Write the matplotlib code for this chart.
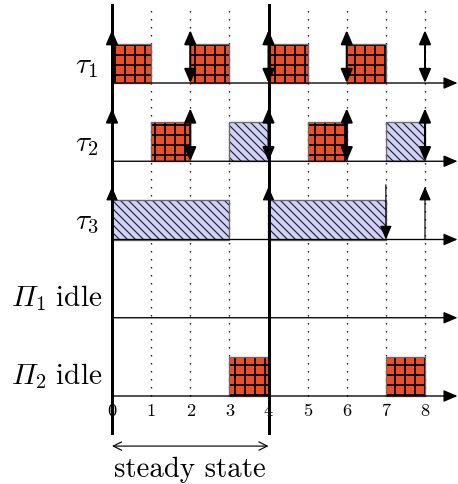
import matplotlib
matplotlib.use('Agg')
import matplotlib.pyplot as plt
from matplotlib.patches import Rectangle, FancyArrowPatch

# schedule (time units)
row_names = ['tau1', 'tau2', 'tau3', 'pi1', 'pi2']
row_base = [8, 6, 4, 2, 0]
row_labels = [r'$\tau_1$', r'$\tau_2$', r'$\tau_3$',
              '$\u00a6_1\\ \\mathrm{idle}$', '$\u00a6_2\\ \\mathrm{idle}$']

# (start, length) of executed slots
red_jobs = {'tau1': [(0, 1), (2, 1), (4, 1), (6, 1)],
            'tau2': [(1, 1), (5, 1)],
            'pi2': [(3, 1), (7, 1)]}
blue_jobs = {'tau2': [(3, 1), (7, 1)],
             'tau3': [(0, 3), (4, 3)]}

releases = {'tau1': [0, 2, 4, 6, 8], 'tau2': [0, 2, 4, 6, 8], 'tau3': [0, 4, 8]}
deadlines = {'tau1': [2, 4, 6, 8], 'tau2': [2, 4, 6, 8], 'tau3': [7]}

ticks = [0, 1, 2, 3, 4, 5, 6, 7, 8]
steady = (0, 4)

red = '#ec4f25'
lav = '#d2d2f2'
plt.rcParams['hatch.linewidth'] = 1.1

s = 39.125  # px per time unit
fig = plt.figure(figsize=(458 / 120, 484 / 120), dpi=120)
ax = fig.add_axes([0, 0, 1, 1])
ax.set_xlim(-112 / s, (458 - 112) / s)
ax.set_ylim(-(484 - 396) / s, 396 / s)
ax.axis('off')

head = ',head_length=0.7,head_width=0.3'

# dotted time grid
for t in ticks:
    if t in steady:
        continue
    ax.plot([t, t], [0, 10.0], color='black', lw=0.8, ls=(0, (1, 5)), zorder=0)

for name, base in zip(row_names, row_base):
    for st, ln in red_jobs.get(name, []):
        ax.add_patch(Rectangle((st, base), ln, 1, facecolor=red, edgecolor='black',
                               hatch='++', lw=0, zorder=2))
        ax.add_patch(Rectangle((st, base), ln, 1, fill=False, edgecolor='#6a6a6a',
                               lw=0.8, zorder=2.1))
    for st, ln in blue_jobs.get(name, []):
        p = Rectangle((st, base), ln, 1, facecolor=lav, edgecolor='#202040',
                      hatch='\\\\\\\\\\', lw=0, zorder=2)
        if hasattr(p, 'set_hatch_linewidth'):
            p.set_hatch_linewidth(0.7)
        ax.add_patch(p)
        ax.add_patch(Rectangle((st, base), ln, 1, fill=False, edgecolor='#6a6a6a',
                               lw=0.8, zorder=2.1))

    # time axis of the row
    ax.add_patch(FancyArrowPatch((0, base), (8.83, base), arrowstyle='-|>' + head,
                                 mutation_scale=10, lw=0.8, color='black', shrinkA=0, shrinkB=0, zorder=3))

    lw = 0.7 if name == 'tau3' else 1.2
    rel = releases.get(name, [])
    dl = deadlines.get(name, [])
    for t in rel:
        style = '<|-|>' if t in dl else '-|>'
        ax.add_patch(FancyArrowPatch((t, base), (t, base + 1.35), arrowstyle=style + head,
                                     mutation_scale=10, lw=lw, color='black',
                                     shrinkA=0, shrinkB=0, zorder=5))
    for t in dl:
        if t in rel:
            continue
        ax.add_patch(FancyArrowPatch((t, base + 1.4), (t, base), arrowstyle='-|>' + head,
                                     mutation_scale=10, lw=lw, color='black',
                                     shrinkA=0, shrinkB=0, zorder=5))

# row labels
for i, (lab, base) in enumerate(zip(row_labels, row_base)):
    if i < 3:
        ax.text(-0.64, base + 0.44, lab, ha='center', va='center', fontsize=17.5,
                math_fontfamily='cm')
    else:
        ax.text(-0.24, base + 0.3, lab, ha='right', va='baseline', fontsize=17.5,
                math_fontfamily='cm')

# steady state borders
for t in steady:
    ax.plot([t, t], [-0.95, 10.0], color='black', lw=1.8, zorder=4)

for t in ticks:
    ax.text(t, -0.38, str(t), ha='center', va='center', fontsize=11, family='cmr10', zorder=6)

ax.add_patch(FancyArrowPatch((steady[0], -1.28), (steady[1], -1.28),
                             arrowstyle='<->,head_length=0.5,head_width=0.25',
                             mutation_scale=10, lw=0.7, color='black', shrinkA=0, shrinkB=0))
ax.text(sum(steady) / 2, -2.07, 'steady state', ha='center', va='baseline',
        fontsize=17.3, family='cmr10')

fig.savefig('out.png', dpi=120)
